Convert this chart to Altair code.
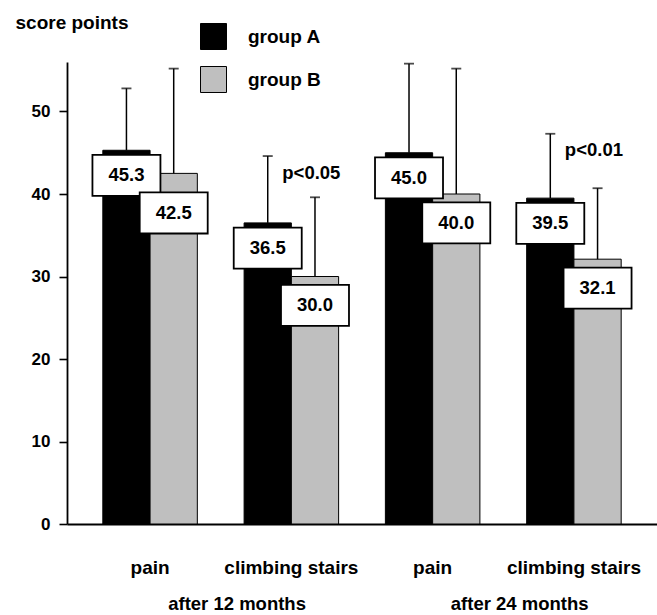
import altair as alt
import pandas as pd

# Categories and values
periods = ["after 12 months", "after 12 months", "after 24 months", "after 24 months"]
measures = ["pain", "climbing stairs", "pain", "climbing stairs"]
groups = ["group A", "group B"]
group_a_mean = [45.3, 36.5, 45.0, 39.5]
group_b_mean = [42.5, 30.0, 40.0, 32.1]
group_a_sd = [7.5, 8.1, 10.8, 7.8]
group_b_sd = [12.7, 9.6, 15.2, 8.6]
p_labels = ["", "p<0.05", "", "p<0.01"]

FONT = "Liberation Sans"

rows = []
for i, (per, mea) in enumerate(zip(periods, measures)):
    key = f"{per}|{mea}"
    for g, means, sds in ((groups[0], group_a_mean, group_a_sd),
                          (groups[1], group_b_mean, group_b_sd)):
        rows.append(dict(key=key, period=per, measure=mea, group=g,
                         mean=means[i], sd=sds[i], a_mean=group_a_mean[i],
                         p=p_labels[i], first=(mea == measures[0])))
df = pd.DataFrame(rows)
order = [f"{p}|{m}" for p, m in zip(periods, measures)]

x_axis = alt.Axis(title=None, labelExpr="split(datum.label, '|')[1]", ticks=False,
                  tickSize=0, labelAngle=0, labelFont=FONT, labelFontSize=19,
                  labelFontWeight="bold", labelBaseline="alphabetic",
                  labelPadding=49, labelOverlap=False, labelColor="black",
                  domainColor="black", domainWidth=1.8, grid=False)
x_scale = alt.Scale(paddingInner=0.331, paddingOuter=0.2535)
y_axis = alt.Axis(values=[0, 10, 20, 30, 40, 50], title="score points",
                  titleAngle=0, titleAlign="left", titleBaseline="alphabetic",
                  titleX=-52, titleY=-34, titleFont=FONT, titleFontSize=19,
                  titleFontWeight="bold", titleColor="black",
                  tickSize=8, tickColor="black", tickWidth=1.6, labelPadding=9,
                  labelFont=FONT, labelFontSize=17, labelFontWeight="bold",
                  labelColor="black", domainColor="black", domainWidth=1.8,
                  grid=False)
y_scale = alt.Scale(domain=[0, 56], nice=False, zero=True)


def X():
    return alt.X("key:N", sort=order, scale=x_scale, axis=x_axis)


def XO():
    return alt.XOffset("group:N", sort=groups,
                       scale=alt.Scale(paddingInner=0, paddingOuter=0))


def Y(field):
    return alt.Y(field, scale=y_scale, axis=y_axis)


base = alt.Chart(df).transform_calculate(
    top="datum.mean + datum.sd",
    label_y="datum.group == 'group A' ? datum.mean - 3.05 : "
            "min(datum.mean - 3.5, datum.a_mean - 7.6)",
    p_y="datum.mean + datum.sd - 2",
)

bars = base.mark_bar(stroke="black", strokeWidth=1).encode(
    x=X(), xOffset=XO(), y=Y("mean:Q"),
    fill=alt.Fill("group:N", sort=groups,
                  scale=alt.Scale(domain=groups, range=["black", "#bfbfbf"]),
                  legend=alt.Legend(title=None, orient="none", legendX=133,
                                    legendY=-39, symbolType="square",
                                    symbolSize=676, symbolStrokeColor="black",
                                    symbolStrokeWidth=1, labelFont=FONT,
                                    labelFontSize=19, labelFontWeight="bold",
                                    labelColor="black", labelOffset=21,
                                    rowPadding=12, padding=0)),
)

err = base.mark_rule(color="black", strokeWidth=1.5).encode(
    x=X(), xOffset=XO(), y=Y("mean:Q"), y2="top:Q")

caps = base.mark_tick(color="black", thickness=1.8, size=10,
                      orient="horizontal").encode(
    x=X(), xOffset=XO(), y=Y("top:Q"))

box_path = "M-1,-0.603L1,-0.603L1,0.603L-1,0.603Z"
boxes = base.mark_point(shape=box_path, size=68 * 68, filled=True, fill="white",
                        stroke="black", strokeWidth=1.8, opacity=1).encode(
    x=X(), xOffset=XO(), y=Y("label_y:Q"))

values = base.mark_text(font=FONT, fontSize=18.5, fontWeight="bold",
                        color="black", baseline="middle").encode(
    x=X(), xOffset=XO(), y=Y("label_y:Q"), text=alt.Text("mean:Q", format=".1f"))

pvals = base.transform_filter("datum.group == 'group A' && datum.p != ''").mark_text(
    font=FONT, fontSize=18.5, fontWeight="bold", color="black",
    baseline="middle", dx=20).encode(
    x=X(), y=Y("p_y:Q"), text="p:N")

period_labels = base.transform_filter(
    "datum.group == 'group A' && datum.first").mark_text(
    font=FONT, fontSize=18.5, fontWeight="bold", color="black",
    baseline="bottom", dx=87).encode(
    x=X(), y=alt.value(552), text="period:N")

chart = alt.layer(bars, err, caps, boxes, values, pvals, period_labels).properties(
    width=590, height=462,
    autosize=alt.AutoSizeParams(type="none"),
    padding={"left": 67, "top": 62, "right": 0, "bottom": 91},
).configure_view(stroke=None)

chart.save("out.html", embed_options={"renderer": "svg", "actions": False})
